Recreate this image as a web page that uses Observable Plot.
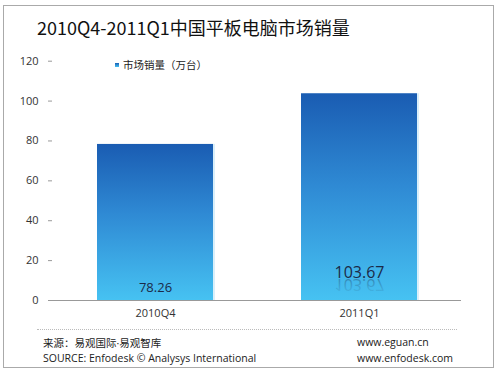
<!DOCTYPE html>
<html><head><meta charset="utf-8">
<script src="https://cdn.jsdelivr.net/npm/d3@7"></script>
<script src="https://cdn.jsdelivr.net/npm/@observablehq/plot@0.6"></script>
<style>
body{margin:0;background:#fff;}
#wrap{position:relative;width:500px;height:373px;overflow:hidden;font-family:"Open Sans","Noto Sans CJK SC",sans-serif;color:#222;}
#wrap svg{position:absolute;left:0;top:0;}
.abs{position:absolute;white-space:nowrap;}
#border{position:absolute;left:3px;top:5px;width:491px;height:363px;border:1.5px solid #aaa;box-sizing:border-box;}
#title{left:37px;top:14px;font-size:18px;font-family:"Noto Sans CJK SC","Open Sans",sans-serif;color:#111;}
#legend{left:115px;top:57px;font-size:10.5px;font-family:"Noto Sans CJK SC",sans-serif;color:#222;}
#legend i{display:inline-block;width:4px;height:4px;background:linear-gradient(#1a5fb4,#45bff0);margin-right:4px;vertical-align:2px;}
#sep{position:absolute;left:37px;top:329px;width:420px;border-top:1px dotted #bbb;}
.foot{font-size:10.5px;color:#222;}
</style></head>
<body><div id="wrap"><div id="border"></div></div>
<script>
const categories = ["2010Q4", "2011Q1"];
const sales = [78.26, 103.67];
const yTicks = [0, 20, 40, 60, 80, 100, 120];
const titleText = "2010Q4-2011Q1中国平板电脑市场销量";
const legendText = "市场销量（万台）";
const sourceCn = "来源：易观国际·易观智库";
const sourceEn = "SOURCE: Enfodesk © Analysys International";
const url1 = "www.eguan.cn";
const url2 = "www.enfodesk.com";

const data = categories.map((c, i) => ({cat: c, v: sales[i]}));

const defs = () => {
  const g = d3.create("svg:defs");
  const lg = g.append("linearGradient").attr("id", "barGrad").attr("x1", 0).attr("y1", 0).attr("x2", 0).attr("y2", 1);
  lg.append("stop").attr("offset", "0%").attr("stop-color", "#1a5cb2");
  lg.append("stop").attr("offset", "45%").attr("stop-color", "#2f8ad4");
  lg.append("stop").attr("offset", "100%").attr("stop-color", "#46c2f2");
  const rg = g.append("linearGradient").attr("id", "reflGrad").attr("x1", 0).attr("y1", 0).attr("x2", 0).attr("y2", 1);
  rg.append("stop").attr("offset", "0%").attr("stop-color", "#1b2a48").attr("stop-opacity", 0);
  rg.append("stop").attr("offset", "100%").attr("stop-color", "#1b2a48").attr("stop-opacity", 0.45);
  return g.node();
};

const font = '"Open Sans","Noto Sans CJK SC",sans-serif';
const second = data.filter(d => d.cat === categories[1]);
const chart = Plot.plot({
  width: 500, height: 373,
  marginTop: 60.7, marginBottom: 73, marginLeft: 52, marginRight: 39,
  style: {fontFamily: font, background: "transparent", overflow: "visible"},
  x: {domain: categories, paddingInner: 0.433, paddingOuter: 0.216, axis: null},
  y: {domain: [0, 120], axis: null},
  marks: [
    defs,
    Plot.barY(data, {x: "cat", y: "v", dx: 2, fill: "#bfe4f7", fillOpacity: 0.6}),
    Plot.barY(data, {x: "cat", y: "v", fill: "url(#barGrad)"}),
    Plot.ruleY([0], {stroke: "#999", strokeWidth: 1}),
    Plot.axisY({ticks: yTicks, tickSize: 4, tickPadding: 10, fontSize: 11, stroke: "#999", fill: "#333", line: true, label: null, tickFormat: d => String(d)}),
    Plot.axisX({tickSize: 0, tickPadding: 9, fontSize: 11, fill: "#333", label: null}),
    Plot.text(data.filter(d => d.cat === categories[0]), {x: "cat", y: 0, text: d => d.v.toFixed(2), dy: -13, fontSize: 13, fill: "#1b2a48"}),
    Plot.text(second, {x: "cat", y: 0, text: d => d.v.toFixed(2), dy: -28, fontSize: 16, fill: "#1b2a48", className: "orig"}),
    Plot.text(second, {x: "cat", y: 0, text: d => d.v.toFixed(2), dy: -28, fontSize: 16, fill: "url(#reflGrad)", className: "reflect"})
  ]
});
const wrap = document.getElementById("wrap");
wrap.appendChild(chart);
// mirror the reflection about the baseline of the original label
const orig = chart.querySelector("g.orig text");
const refl = chart.querySelector("g.reflect");
if (orig && refl) {
  const bb = orig.getBBox();
  const m = orig.getCTM();
  const y0 = bb.y + bb.height * 0.8;
  const yAbs = m.f + y0 * m.d;
  const wrapper = document.createElementNS("http://www.w3.org/2000/svg", "g");
  refl.parentNode.insertBefore(wrapper, refl);
  wrapper.appendChild(refl);
  wrapper.setAttribute("transform", `translate(0,${2 * yAbs}) scale(1,-1)`);
}
const add = (id, cls, txt, l, t) => { const d = document.createElement("div"); if (id) d.id = id; d.className = "abs " + (cls||""); d.textContent = txt; if (l!=null){d.style.left=l+"px"; d.style.top=t+"px";} wrap.appendChild(d); return d; };
add("title", "", titleText);
const lg = add("legend", "", legendText); const sq = document.createElement("i"); lg.prepend(sq);
const sep = document.createElement("div"); sep.id = "sep"; wrap.appendChild(sep);
add(null, "foot", sourceCn, 43, 335);
add(null, "foot", sourceEn, 43, 351);
add(null, "foot", url1, 357, 335);
add(null, "foot", url2, 357, 351);
</script></body></html>
